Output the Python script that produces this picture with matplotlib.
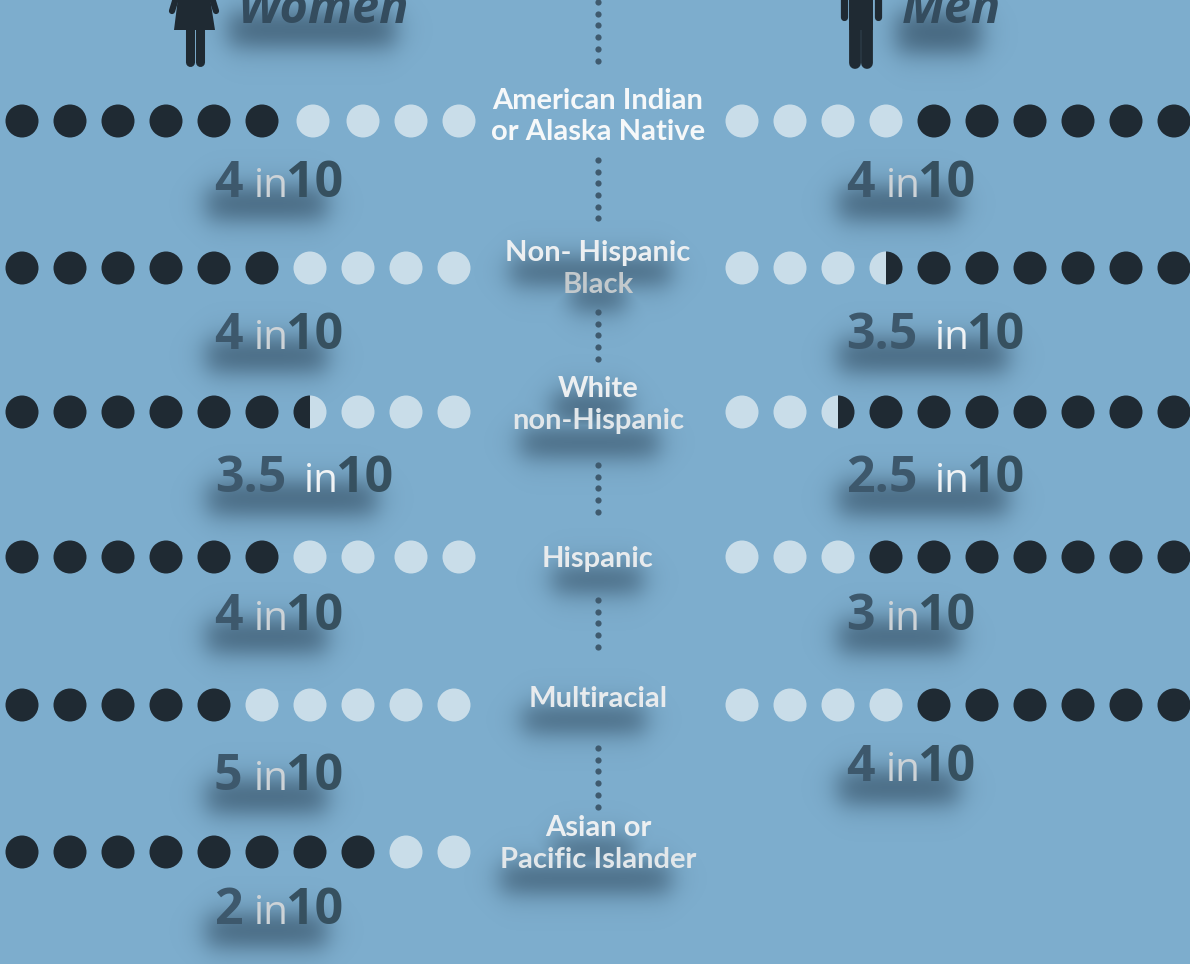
import numpy as np
import matplotlib
matplotlib.use("Agg")
import matplotlib.pyplot as plt
from matplotlib.patches import Circle, Wedge, Polygon

# values: how many in 10, as printed on the chart
groups = [["American Indian", "or Alaska Native"], ["Non- Hispanic", "Black"], ["White", "non-Hispanic"],
          ["Hispanic"], ["Multiracial"], ["Asian or", "Pacific Islander"]]
women_val = [4, 4, 3.5, 4, 5, 2]
men_val = [4, 3.5, 2.5, 3, 4]
women_txt = ["4", "4", "3.5", "4", "5", "2"]
men_txt = ["4", "3.5", "2.5", "3", "4"]

# layout, in pixels of the picture
W, H = 1190, 964
BG = "#7dadcd"
DARK = "#1f2a33"
LIGHT = "#c9dde9"
NUM = "#3d586c"
FONT = "Open Sans"
LABEL_FONT = "Lato"
row_y = [121, 268, 412, 557, 705, 852]
label_y = [[109, 140], [261, 293], [397, 429], [567], [707], [836, 868]]
label_col = [["#f6f8f9", "#f6f8f9"], ["#eceff1", "#c3c9cc"], ["#eceff1", "#e2e7ea"], ["#e8ebed"], ["#e8ebed"], ["#eceff1", "#e2e7ea"]]
w_base = [197, 349, 492, 630, 790, 924]
m_base = [197, 349, 492, 630, 781]
# small nudge of the pale dots in the women's rows
w_nudge = [[3, 5, 5, 5], [0, 0, 0, 0], [0, 0, 0, 0], [0, 0, 5, 5], [0, 0, 0, 0, 0], [0, 0]]
dots_seg = [(2, 60), (160, 220), (312, 360), (465, 520), (600, 652), (748, 806)]
shadows = [(228, 395, 12, 46), (896, 980, 12, 52),
           (510, 670, 258, 284), (570, 625, 282, 310), (552, 628, 392, 422), (520, 658, 428, 456),
           (552, 642, 566, 592), (522, 645, 706, 732), (552, 632, 838, 862), (500, 670, 864, 892)]

fig = plt.figure(figsize=(W / 100, H / 100), dpi=100, facecolor=BG)
ax = fig.add_axes([0, 0, 1, 1])
ax.set_facecolor(BG)


def box(xx, yy, x0, x1, y0, y1, soft=15.0):
    a = 0.5 * (np.tanh((xx - x0) / soft) - np.tanh((xx - x1) / soft))
    b = 0.5 * (np.tanh((yy - y0) / soft) - np.tanh((yy - y1) / soft))
    return a * b


def number(x, base, txt, in_col="#cdd3d7"):
    # big number, then "in", then 10
    wide = "." in txt
    ax.text(x, base, txt, fontsize=36, color=NUM, family=FONT, weight="bold", va="baseline", ha="left", zorder=4)
    in_x = x + (89 if wide else 40)
    ax.text(in_x, base, "in", fontsize=29, color=in_col, family=FONT, va="baseline", ha="left", zorder=4)
    ax.text(in_x + 32, base, "10", fontsize=36, color="#36505f", family=FONT, weight="bold", va="baseline", ha="left", zorder=4)
    return (x - 8, in_x + 72, base - 10, base + 22)


def dots(xs, y, n_dark, dark_left):
    # n_dark may end in .5, that dot is split in two
    for i, x in enumerate(xs):
        k = i if dark_left else 9 - i
        if k < int(n_dark):
            ax.add_patch(Circle((x, y), 16.5, fc=DARK, ec="none", zorder=3))
        elif k == int(n_dark) and n_dark % 1:
            left, right = (DARK, LIGHT) if dark_left else (LIGHT, DARK)
            ax.add_patch(Wedge((x, y), 16.5, 90, 270, fc=left, ec="none", zorder=3))
            ax.add_patch(Wedge((x, y), 16.5, 270, 90, fc=right, ec="none", zorder=3))
        else:
            ax.add_patch(Circle((x, y), 16.5, fc=LIGHT, ec="none", zorder=3))


boxes = list(shadows)
for r, y in enumerate(row_y):
    # women: dark dots on the left
    xs = 22 + 48.0 * np.arange(10)
    nudge = w_nudge[r]
    xs[10 - len(nudge):] += nudge
    dots(xs, y, 10 - women_val[r], True)
    boxes.append(number(214 if "." not in women_txt[r] else 215, w_base[r], women_txt[r],
                        "#f0f3f5" if "." in women_txt[r] else "#cdd3d7"))
    # men: pale dots on the left, no last row
    if r < len(men_val):
        xs = 742 + 48.0 * np.arange(10)
        dots(xs, y, 10 - men_val[r], False)
        boxes.append(number(846, m_base[r], men_txt[r],
                            "#f0f3f5" if "." in men_txt[r] else "#cdd3d7"))
    for line, ly, c in zip(groups[r], label_y[r], label_col[r]):
        ax.text(598, ly, line, fontsize=21, color=c, family=LABEL_FONT, weight="bold", ha="center", va="baseline", zorder=4)

# blurred shadows under the text
yy, xx = np.mgrid[0:H, 0:W]
mask = np.zeros((H, W))
for b in boxes:
    mask = np.maximum(mask, box(xx, yy, *b))
img = np.zeros((H, W, 4))
img[..., :3] = matplotlib.colors.to_rgb("#2b4458")
img[..., 3] = mask * 0.72
ax.imshow(img, extent=(0, W, H, 0), zorder=1, interpolation="bilinear")

# dotted line down the middle
for a, b in dots_seg:
    ys = np.arange(a, b + 1, 11.7)
    ax.scatter([598] * len(ys), ys, s=20, color="#3f5a6e", linewidths=0, zorder=2)

# headings, cut off by the top edge
ax.text(238, 23, "Women", fontsize=35, color="#344c5e", family=FONT, weight="bold", style="italic", va="baseline", zorder=4)
ax.text(902, 23, "Men", fontsize=35, color="#344c5e", family=FONT, weight="bold", style="italic", va="baseline", zorder=4)

# woman icon
ax.add_patch(Polygon([(178, -2), (210, -2), (215, 30), (174, 30)], fc=DARK, ec="none", zorder=3))
ax.plot([176, 172], [-2, 11], color=DARK, lw=4.5, solid_capstyle="round", zorder=3)
ax.plot([212, 216], [-2, 11], color=DARK, lw=4.5, solid_capstyle="round", zorder=3)
ax.plot([189.5, 189.5], [28, 62], color=DARK, lw=6.5, solid_capstyle="round", zorder=3)
ax.plot([199.5, 199.5], [28, 62], color=DARK, lw=6.5, solid_capstyle="round", zorder=3)
# man icon
ax.add_patch(Polygon([(849, -2), (873, -2), (873, 30), (849, 30)], fc=DARK, ec="none", zorder=3))
ax.plot([843.5, 843.5], [-2, 17], color=DARK, lw=5.2, solid_capstyle="round", zorder=3)
ax.plot([878, 878], [-2, 17], color=DARK, lw=5.2, solid_capstyle="round", zorder=3)
ax.plot([855, 855], [20, 63], color=DARK, lw=8.5, solid_capstyle="round", zorder=3)
ax.plot([867, 867], [20, 63], color=DARK, lw=8.5, solid_capstyle="round", zorder=3)

ax.set_xlim(0, W)
ax.set_ylim(H, 0)
ax.axis("off")
fig.savefig("out.png", dpi=100, facecolor=BG)
